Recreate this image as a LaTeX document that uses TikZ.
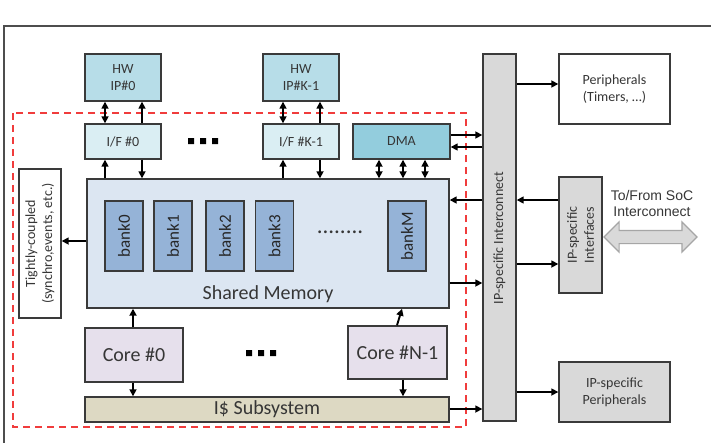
\documentclass[tikz,border=0pt]{standalone}
\usepackage{fontspec}
\setmainfont{Carlito}
\newfontfamily\arialf{Liberation Sans}
\usetikzlibrary{arrows.meta,shapes.arrows,calc}
\definecolor{bd}{HTML}{3A3A3A}
\definecolor{txt}{HTML}{363636}
\definecolor{hwc}{HTML}{B7DDE8}
\definecolor{ifc}{HTML}{DAEEF3}
\definecolor{dmac}{HTML}{93CDDD}
\definecolor{smc}{HTML}{DCE6F2}
\definecolor{bankc}{HTML}{95B3D7}
\definecolor{corec}{HTML}{E6E0EC}
\definecolor{icc}{HTML}{DDD9C3}
\definecolor{grayc}{HTML}{D9D9D9}
\definecolor{redd}{HTML}{F03C3C}
\begin{document}
\begin{tikzpicture}[x=1pt,y=-1pt,
  box/.style={draw=bd, line width=1.4pt, text=txt, align=center, inner sep=0pt,
    font=\fontsize{14}{17}\selectfont},
  bigtext/.style={font=\fontsize{20}{24}\selectfont},
  banktext/.style={font=\fontsize{17}{20}\selectfont},
  arr/.style={-{Triangle[length=7pt,width=7pt]}, line width=1.6pt},
  darr/.style={{Triangle[length=7pt,width=7pt]}-{Triangle[length=7pt,width=7pt]}, line width=1.6pt},
  sqdot/.style={fill=black}
]
\useasboundingbox (0,0) rectangle (711,442);
\fill[white] (0,0) rectangle (711,442);
% outer frame
\draw[draw=bd!90, line width=1.5pt] (4,26) rectangle (722,452);
% red dashed cluster
\draw[redd, line width=1.5pt, dash pattern=on 7pt off 5pt] (13,113) rectangle (466,427);

% HW IPs and interfaces
\node[box, fill=hwc, minimum width=76pt, minimum height=47pt] (hw0) at (123,77.5) {HW\\IP\#0};
\node[box, fill=hwc, minimum width=76pt, minimum height=47pt] (hwk) at (301,77.5) {HW\\IP\#K-1};
\node[box, fill=ifc, minimum width=76pt, minimum height=35pt] (if0) at (123,141.5) {I/F \#0};
\node[box, fill=ifc, minimum width=76pt, minimum height=35pt] (ifk) at (301,141.5) {I/F \#K-1};
\node[box, fill=dmac, minimum width=97pt, minimum height=35pt] (dma) at (401.5,141.5) {DMA};

% shared memory
\node[box, fill=smc, minimum width=362pt, minimum height=129pt] (sm) at (268,243.5) {};
\node[text=txt, bigtext] (smt) at (268,294) {Shared Memory};
\foreach \n/\x/\l in {b0/124/bank0, b1/173/bank1, b2/225/bank2, b3/274.5/bank3, bm/407/bankM}{
  \node[box, fill=bankc, minimum width=38pt, minimum height=70pt] (\n) at (\x,236) {};
  \node[rotate=90, banktext, text=black!85] (\n t) at (\x,236) {\l};
}
\node[font=\fontsize{23}{24}\selectfont, text=txt] (bdots) at (340,232) {........};

% tightly coupled
\node[box, fill=white, minimum width=42pt, minimum height=149pt] (tc) at (40,243.5) {};
\node[rotate=90, text=txt, align=center, font=\fontsize{14}{17}\selectfont] (tct) at (40,243.5) {Tightly-coupled\\(synchro,events, etc.)};

% cores and I$
\node[box, fill=corec, minimum width=98pt, minimum height=54pt, bigtext] (core0) at (134,355) {Core \#0};
\node[box, fill=corec, minimum width=99pt, minimum height=53pt, bigtext] (corek) at (397.5,352.5) {Core \#N-1};
\node[box, fill=icc, minimum width=364pt, minimum height=25pt, bigtext] (ic) at (267,409.5) {I\$ Subsystem};

% interconnect bar
\node[box, fill=grayc, minimum width=33pt, minimum height=367pt] (bar) at (499.5,237.5) {};
\node[rotate=90, text=txt, font=\fontsize{14}{17}\selectfont] (bart) at (499.5,238) {IP-specific Interconnect};

% right side boxes
\node[box, fill=white, minimum width=111pt, minimum height=70pt] (per) at (614.5,89) {Peripherals\\(Timers, …)};
\node[box, fill=grayc, minimum width=43pt, minimum height=116pt] (ipi) at (580.5,235) {};
\node[rotate=90, text=txt, align=center, font=\fontsize{14}{17}\selectfont] (ipit) at (580.5,235) {IP-specific\\Interfaces};
\node[box, fill=grayc, minimum width=111pt, minimum height=60pt] (ipp) at (614.5,392) {IP-specific\\Peripherals};

\node[text=txt, align=center, font=\arialf\fontsize{14}{16}\selectfont] (soct) at (652,203) {To/From SoC\\Interconnect};
\node[double arrow, draw=gray!70, fill=grayc, line width=1.2pt, minimum height=93pt, minimum width=29pt,
  double arrow head extend=8.5pt, inner sep=6pt] (soc) at (650.5,237) {};

% dots
\fill[sqdot] (188,138) rectangle ++(6,6) (200,138) rectangle ++(6,6) (212,138) rectangle ++(6,6);
\fill[sqdot] (246,350) rectangle ++(6,6) (258,350) rectangle ++(6,6) (270,350) rectangle ++(6,6);

% HW <-> IF
\draw[darr] ([xshift=-18pt]if0.north) -- ([xshift=-18pt]hw0.south);
\draw[arr] ([xshift=19pt]if0.north) -- ([xshift=19pt]hw0.south);
\draw[darr] ([xshift=-18pt]ifk.north) -- ([xshift=-18pt]hwk.south);
\draw[arr] ([xshift=19pt]ifk.north) -- ([xshift=19pt]hwk.south);
% IF <-> SM
\draw[arr] ([xshift=-18pt]if0.south |- sm.north) -- ([xshift=-18pt]if0.south);
\draw[arr] ([xshift=19pt]if0.south) -- ([xshift=19pt]if0.south |- sm.north);
\draw[arr] ([xshift=-18pt]ifk.south |- sm.north) -- ([xshift=-18pt]ifk.south);
\draw[arr] ([xshift=19pt]ifk.south) -- ([xshift=19pt]ifk.south |- sm.north);
% DMA <-> SM
\foreach \s in {-22.5,1.5,23.5}{
  \draw[darr] ([xshift=\s pt]dma.south) -- ([xshift=\s pt]dma.south |- sm.north);
}
% level coordinates
\coordinate (yd1) at (0,135);
\coordinate (yd2) at (0,147);
\coordinate (yper) at (0,84);
\coordinate (yin) at (0,200);
\coordinate (yout) at (0,264);
\coordinate (ysm) at (0,283);
\coordinate (yipp) at (0,392);
\coordinate (yic) at (0,409);
\coordinate (ytc) at (0,241);
% DMA <-> bar
\draw[arr] (dma.east |- yd1) -- (bar.west |- yd1);
\draw[arr] (bar.west |- yd2) -- (dma.east |- yd2);
% bar <-> right
\draw[arr] (bar.east |- yper) -- (per.west |- yper);
\draw[arr] (ipi.west |- yin) -- (bar.east |- yin);
\draw[arr] (bar.west |- yin) -- (sm.east |- yin);
\draw[arr] (bar.east |- yout) -- (ipi.west |- yout);
\draw[arr] (sm.east |- ysm) -- (bar.west |- ysm);
\draw[arr] (bar.east |- yipp) -- (ipp.west |- yipp);
\draw[arr] (ic.east |- yic) -- (bar.west |- yic);
% SM -> tightly coupled
\draw[arr] (sm.west |- ytc) -- (tc.east |- ytc);
% cores
\draw[arr, line width=2.2pt] ([xshift=-1pt]core0.north) -- ([xshift=-1pt]core0.north |- sm.south);
\draw[arr] ([xshift=-1pt]core0.south) -- ([xshift=-1pt]core0.south |- ic.north);
\draw[arr, line width=1.9pt] ([xshift=-0.5pt]corek.north) -- ($(corek.north |- sm.south)+(4.5,0)$);
\draw[arr] ([xshift=5.5pt]corek.south) -- ([xshift=5.5pt]corek.south |- ic.north);
\end{tikzpicture}
\end{document}
